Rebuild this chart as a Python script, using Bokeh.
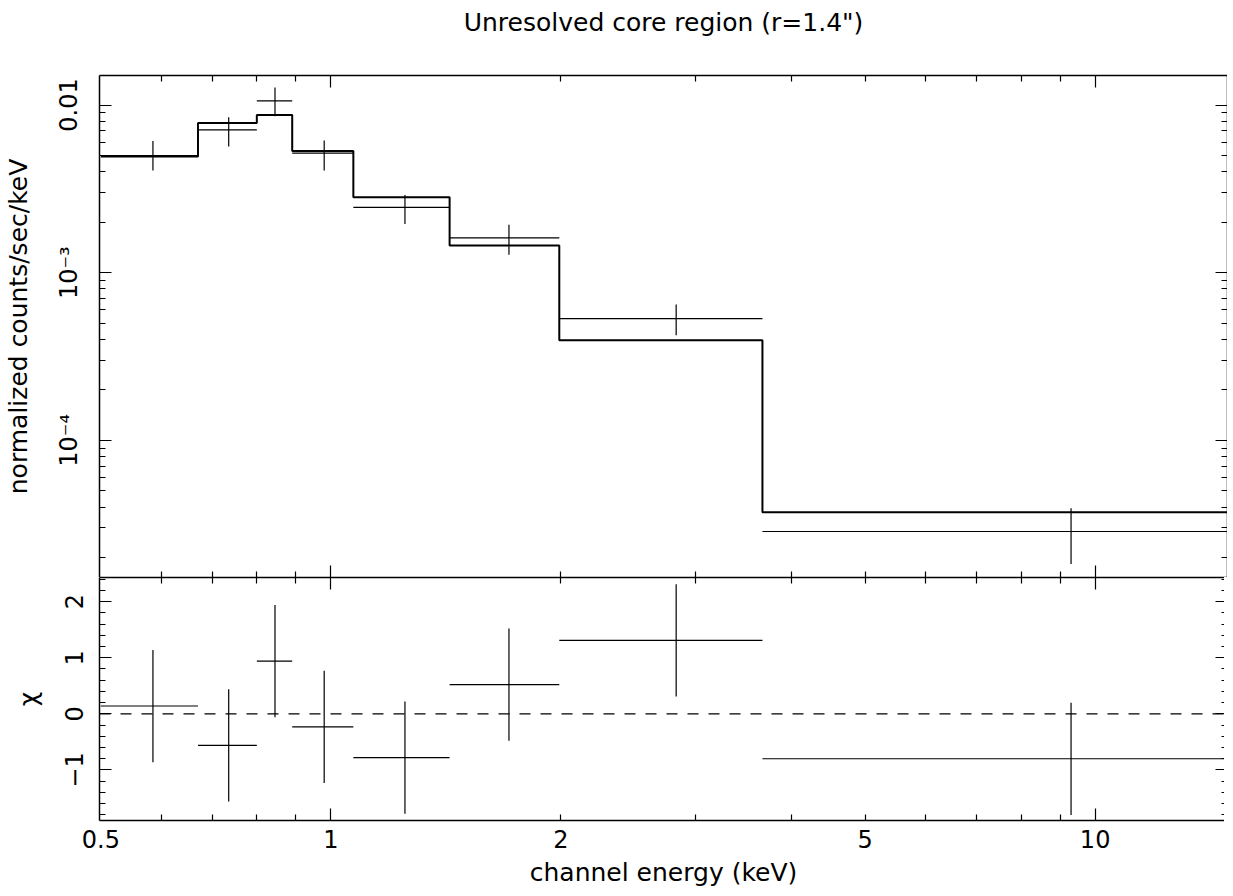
from bokeh.plotting import figure
from bokeh.layouts import column
from bokeh.models import Range1d, FixedTicker, LogAxis, LinearAxis, Span, CustomJSTickFormatter
from bokeh.embed import file_html
from bokeh.resources import INLINE

FONT = "DejaVu Sans"
FS = "24px"      # tick labels
FL = "25px"      # axis labels and title

# ---- data ----
bin_lo = [0.50, 0.67, 0.80, 0.89, 1.07, 1.43, 1.99, 3.67]
bin_hi = [0.67, 0.80, 0.89, 1.07, 1.43, 1.99, 3.67, 14.9]
bin_mid = [0.585, 0.735, 0.845, 0.98, 1.25, 1.71, 2.83, 9.3]
rate = [5.0e-3, 7.1e-3, 1.06e-2, 5.16e-3, 2.45e-3, 1.615e-3, 5.32e-4, 2.86e-5]
rate_lo = [4.07e-3, 5.65e-3, 8.57e-3, 4.07e-3, 1.95e-3, 1.28e-3, 4.24e-4, 1.83e-5]
rate_hi = [6.10e-3, 8.45e-3, 1.27e-2, 6.14e-3, 2.91e-3, 1.93e-3, 6.45e-4, 3.94e-5]
model = [4.93e-3, 7.82e-3, 8.72e-3, 5.32e-3, 2.82e-3, 1.45e-3, 3.96e-4, 3.72e-5]
chi = [0.14, -0.56, 0.94, -0.23, -0.78, 0.52, 1.31, -0.80]
chi_err = [1.0, 1.0, 1.0, 1.0, 1.0, 1.0, 1.0, 1.0]

# ---- ticks ----
x_major = [1, 10]
x_minor = [0.6, 0.7, 0.8, 0.9, 2, 3, 4, 5, 6, 7, 8, 9]
x_label_ticks = [0.5, 1, 2, 5, 10]
x_label_text = ["0.5", "1", "2", "5", "10"]
y1_major = [1e-4, 1e-3, 1e-2]
y1_label_text = ["10⁻⁴", "10⁻³", "0.01"]
y1_minor = [m * d for d in (1e-5, 1e-4, 1e-3) for m in range(2, 10)]
y2_major = [-1, 0, 1, 2]
y2_label_text = ["−1", "0", "1", "2"]
y2_minor = [round(-1.8 + 0.2 * i, 1) for i in range(22)]

xr = Range1d(0.498, 14.9)


def style_ticks(ax):
    ax.major_tick_in = 12
    ax.major_tick_out = 0
    ax.minor_tick_in = 6
    ax.minor_tick_out = 0
    ax.major_tick_line_color = "black"
    ax.minor_tick_line_color = "black"
    ax.major_tick_line_width = 1.2
    ax.minor_tick_line_width = 1.2
    ax.axis_line_color = "black"
    ax.axis_line_width = 1.5


def no_labels(ax):
    ax.formatter = CustomJSTickFormatter(code="return ''")
    ax.major_label_text_font_size = "1px"
    ax.major_label_standoff = 0
    ax.axis_label = None


def label_style(ax):
    ax.major_label_text_font = FONT
    ax.major_label_text_font_size = FS
    ax.major_label_text_color = "black"
    ax.axis_label_text_font = FONT
    ax.axis_label_text_font_size = FL
    ax.axis_label_text_font_style = "normal"
    ax.axis_label_text_color = "black"


def fmt(ticks, texts):
    pairs = ",".join("[%r,%r]" % (float(t), s) for t, s in zip(ticks, texts))
    return CustomJSTickFormatter(code="""
const pairs = [%s];
for (const [t, s] of pairs) { if (Math.abs(tick - t) <= 1e-9 * Math.max(1, Math.abs(t))) return s; }
return '';
""" % pairs)


# ---------------- top panel ----------------
p1 = figure(frame_width=1128, frame_height=502, x_axis_type="log", y_axis_type="log",
            x_range=xr, y_range=Range1d(1.52e-5, 0.0150),
            toolbar_location=None, output_backend="svg",
            min_border_left=96, min_border_right=0, min_border_top=0, min_border_bottom=0)
p1.grid.visible = False
p1.outline_line_color = None
p1.title.text = 'Unresolved core region (r=1.4")'
p1.title.align = "center"
p1.title.text_font = FONT
p1.title.text_font_size = FL
p1.title.text_font_style = "normal"
p1.title.text_color = "black"
p1.title.standoff = 10

xt = FixedTicker(ticks=x_major, minor_ticks=x_minor)
y1t = FixedTicker(ticks=y1_major, minor_ticks=y1_minor)

ax = p1.xaxis[0]
ax.ticker = xt
style_ticks(ax)
no_labels(ax)

# top axis: ticks only; a blank label row keeps the gap below the title
top1 = LogAxis(ticker=xt)
style_ticks(top1)
top1.formatter = CustomJSTickFormatter(code="return ' '")
top1.major_label_text_font_size = "1px"
top1.major_label_standoff = 30
top1.axis_label = None
p1.add_layout(top1, "above")

ly = p1.yaxis[0]
ly.ticker = y1t
style_ticks(ly)
label_style(ly)
ly.major_label_orientation = "vertical"
ly.formatter = fmt(y1_major, y1_label_text)
ly.major_label_standoff = 16
ly.axis_label = "normalized counts/sec/keV"
ly.axis_label_standoff = 20

ry = LogAxis(ticker=y1t)
style_ticks(ry)
no_labels(ry)
p1.add_layout(ry, "right")

# model (step histogram)
p1.step(bin_lo + [bin_hi[-1]], model + [model[-1]], mode="after",
        line_color="black", line_width=2)
# data with error bars
p1.segment(x0=bin_lo, x1=bin_hi, y0=rate, y1=rate, line_color="black", line_width=1.2)
p1.segment(x0=bin_mid, x1=bin_mid, y0=rate_lo, y1=rate_hi, line_color="black", line_width=1.2)

# ---------------- residual panel ----------------
p2 = figure(frame_width=1128, frame_height=243, x_axis_type="log",
            x_range=xr, y_range=Range1d(-1.90, 2.43),
            toolbar_location=None, output_backend="svg",
            min_border_left=96, min_border_right=0, min_border_top=0, min_border_bottom=0)
p2.grid.visible = False
p2.outline_line_color = None

bx = p2.xaxis[0]
bx.ticker = xt
style_ticks(bx)
no_labels(bx)

lab = LogAxis(ticker=FixedTicker(ticks=x_label_ticks, minor_ticks=[]))
label_style(lab)
lab.axis_line_color = None
lab.major_tick_line_color = None
lab.minor_tick_line_color = None
lab.major_tick_in = 0
lab.major_tick_out = 0
lab.minor_tick_in = 0
lab.minor_tick_out = 0
lab.formatter = fmt(x_label_ticks, x_label_text)
lab.major_label_standoff = 9
lab.axis_label = "channel energy (keV)"
lab.axis_label_standoff = 7
p2.add_layout(lab, "below")

top2 = LogAxis(ticker=xt)
style_ticks(top2)
no_labels(top2)
p2.add_layout(top2, "above")

y2t = FixedTicker(ticks=y2_major, minor_ticks=y2_minor)
ly2 = p2.yaxis[0]
ly2.ticker = y2t
style_ticks(ly2)
label_style(ly2)
ly2.major_label_orientation = "vertical"
ly2.formatter = fmt(y2_major, y2_label_text)
ly2.major_label_standoff = 16
ly2.axis_label = "χ"
ly2.axis_label_standoff = 20

ry2 = LinearAxis(ticker=y2t)
style_ticks(ry2)
no_labels(ry2)
p2.add_layout(ry2, "right")

p2.add_layout(Span(location=0, dimension="width", line_color="black",
                   line_width=1.2, line_dash="11 10"))

p2.segment(x0=bin_lo, x1=bin_hi, y0=chi, y1=chi, line_color="black", line_width=1.2)
p2.segment(x0=bin_mid, x1=bin_mid,
           y0=[c - e for c, e in zip(chi, chi_err)],
           y1=[c + e for c, e in zip(chi, chi_err)],
           line_color="black", line_width=1.2)

layout = column(p1, p2)
open("out.html", "w").write(file_html(layout, INLINE))
